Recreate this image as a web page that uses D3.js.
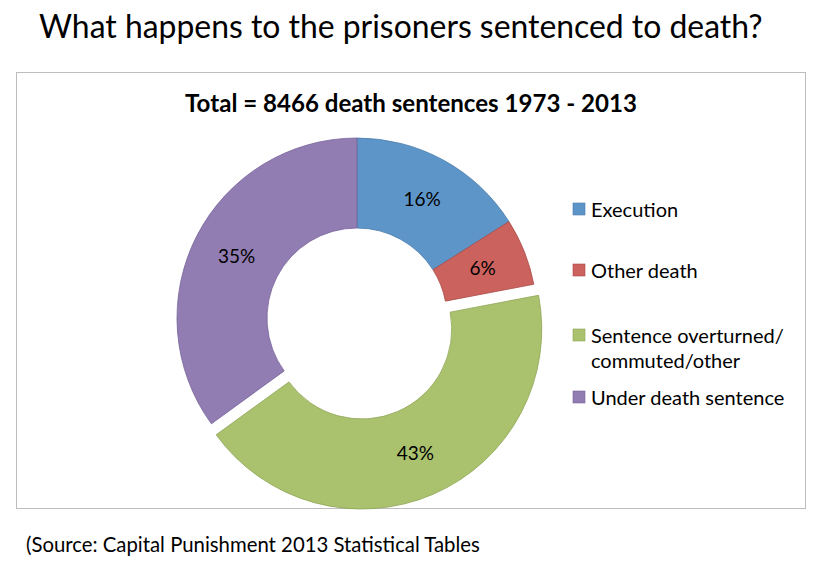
<!DOCTYPE html>
<html>
<head>
<meta charset="utf-8">
<script src="https://cdn.jsdelivr.net/npm/d3@7"></script>
<style>
  body { margin: 0; background: #fff; }
  text { font-family: Lato, "Open Sans", sans-serif; fill: #000; }
</style>
</head>
<body>
<div class="graph"></div>
<script>
// data
const categories = ["Execution", "Other death", "Sentence overturned/commuted/other", "Under death sentence"];
const legendLines = [["Execution"], ["Other death"], ["Sentence overturned/", "commuted/other"], ["Under death sentence"]];
const shares = [16, 6, 43, 35];
const colors = ["#5e95c9", "#cc625e", "#aac26e", "#917db1"];
const strokes = ["#4a7cab", "#a84c48", "#8ea556", "#76629a"];
const exploded = [false, false, true, false];

const width = 821, height = 584;

let svg = d3.select(".graph")
  .append("svg")
  .attr("width", width)
  .attr("height", height);

// squeeze / stretch a text so it takes the width it has in the picture
function fitText(sel, target) {
  let w = sel.node().getComputedTextLength();
  let fs = parseFloat(sel.attr("font-size"));
  sel.attr("font-size", fs * target / w);
}

let title = svg.append("text")
  .attr("x", 39).attr("y", 38)
  .attr("font-size", 30)
  .text("What happens to the prisoners sentenced to death?");
fitText(title, 724);

// chart border
svg.append("rect")
  .attr("x", 16.5).attr("y", 72.5)
  .attr("width", 789).attr("height", 436)
  .attr("fill", "none")
  .attr("stroke", "#bdbdbd");

let sub = svg.append("text")
  .attr("x", 411).attr("y", 112)
  .attr("text-anchor", "middle")
  .attr("font-weight", "bold")
  .attr("font-size", 22)
  .text("Total = 8466 death sentences 1973 - 2013");
fitText(sub, 452);

let cx = 357, cy = 318, outerR = 180, innerR = 90, pull = 12;

let pie = d3.pie().sort(null).value(d => d);
let arcs = pie(shares);
let arc = d3.arc().innerRadius(innerR).outerRadius(outerR);
let labelArc = d3.arc().innerRadius((innerR + outerR) / 2).outerRadius((innerR + outerR) / 2);

let donut = svg.append("g")
  .attr("transform", "translate(" + cx + "," + cy + ")");

let slices = donut.selectAll(".slice")
  .data(arcs)
  .enter().append("g")
  .attr("class", "slice")
  .attr("transform", function(d, i) {
    if (!exploded[i]) return null;
    let a = (d.startAngle + d.endAngle) / 2;
    return "translate(" + (Math.sin(a) * pull) + "," + (-Math.cos(a) * pull) + ")";
  });

slices.append("path")
  .attr("d", arc)
  .attr("fill", (d, i) => colors[i])
  .attr("stroke", (d, i) => strokes[i])
  .attr("stroke-width", 0.8);

slices.append("text")
  .attr("transform", d => "translate(" + labelArc.centroid(d) + ")")
  .attr("text-anchor", "middle")
  .attr("dy", "0.35em")
  .attr("font-size", 19)
  .text(d => d.data + "%");

// legend
let legendY = [210, 271, 336, 398];
let legend = svg.selectAll(".legend")
  .data(categories)
  .enter().append("g")
  .attr("class", "legend")
  .attr("transform", (d, i) => "translate(573," + legendY[i] + ")");

legend.append("rect")
  .attr("x", 0).attr("y", -7)
  .attr("width", 12).attr("height", 12)
  .attr("fill", (d, i) => colors[i])
  .attr("stroke", (d, i) => strokes[i])
  .attr("stroke-width", 0.6);

legend.append("text")
  .attr("x", 18)
  .attr("font-size", 20)
  .each(function(d, i) {
    d3.select(this).selectAll("tspan")
      .data(legendLines[i])
      .enter().append("tspan")
      .attr("x", 18)
      .attr("y", (t, j) => 7 + j * 25)
      .text(String);
  });

let src = svg.append("text")
  .attr("x", 26).attr("y", 552)
  .attr("font-size", 19)
  .text("(Source: Capital Punishment 2013 Statistical Tables");
fitText(src, 454);
</script>
</body>
</html>
